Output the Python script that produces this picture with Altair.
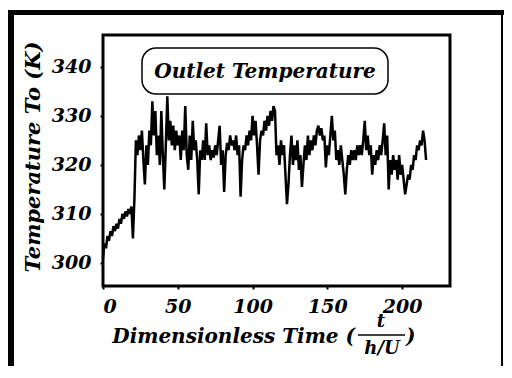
import altair as alt
import pandas as pd

# Dimensionless time (t / (h/U))
time = list(range(0, 217))

# Outlet temperature T_o (K)
temp = [
    301, 304, 303, 305.5, 304.5, 306.5, 305.5, 307.5, 306.5, 308,
    307, 309, 308, 310, 309, 310.5, 309.5, 311, 310, 311.5,
    305, 313, 325, 322, 326, 323, 327, 321, 316, 324,
    320, 327, 324, 333, 326, 331, 322, 326, 320, 331,
    322, 315, 324, 334, 325, 329, 324, 328, 323, 327,
    324, 326, 321, 327, 323, 332, 322, 319, 326, 321,
    329, 323, 325, 321, 314, 323, 321, 325, 321, 328.5,
    322, 324, 321, 323, 321.5, 324, 322, 325, 328, 320,
    323, 314.5, 322, 324.5, 323, 326, 324, 325, 323, 326,
    322, 324, 313.5, 321, 324, 323, 326, 324, 327, 325,
    330, 326, 329, 324, 318, 325, 327, 326, 329, 327,
    330, 328, 331, 329, 332, 331, 322, 324, 320, 325,
    322, 324, 318, 312, 316, 322, 326, 320, 324, 321,
    325, 319, 322, 315.5, 320, 324, 321, 326, 322, 325,
    323, 326, 324, 327, 328, 326, 327.5, 325, 326, 319.5,
    324, 322, 326, 330, 325, 327, 321, 323, 320, 324,
    321, 318, 314, 319, 322, 320, 323, 321, 323, 321,
    324, 322, 324, 322, 325, 329, 323, 326, 322, 324,
    318, 322, 320, 323, 321, 324, 322, 325, 328.5, 322,
    326, 315, 321, 318, 322, 319, 321, 317, 322, 318,
    320, 317, 314, 316, 318, 317, 320, 319, 322, 321,
    324, 323, 325, 324, 327, 325, 321,
]

x_ticks = [0, 50, 100, 150, 200]
y_ticks = [300, 310, 320, 330, 340]

FONT = "DejaVu Serif"
W, H = 347, 251

df = pd.DataFrame({"t": time, "T": temp})
one = pd.DataFrame({"a": [0]})

line = alt.Chart(df).mark_line(color="black", strokeWidth=2.5).encode(
    x=alt.X("t:Q", scale=alt.Scale(domain=[0, 232], nice=False),
            axis=alt.Axis(values=x_ticks, title=None, labelPadding=8)),
    y=alt.Y("T:Q", scale=alt.Scale(domain=[295.3, 346.5], nice=False),
            axis=alt.Axis(values=y_ticks, title=None, labelPadding=9)),
)

base = alt.Chart(one)

box = base.mark_rect(fill="white", stroke="black", strokeWidth=1.5, cornerRadius=14).encode(
    x=alt.value(39), x2=alt.value(285), y=alt.value(13), y2=alt.value(59)
)

txt = dict(font=FONT, fontStyle="italic", fontWeight="bold", color="black")

box_text = base.mark_text(fontSize=20, align="center", baseline="middle", **txt).encode(
    x=alt.value(162), y=alt.value(37), text=alt.value("Outlet Temperature")
)

ytitle = base.mark_text(fontSize=21, align="center", baseline="middle", angle=270, **txt).encode(
    x=alt.value(-69), y=alt.value(122), text=alt.value("Temperature To (K)")
)

xtitle = base.mark_text(fontSize=20, align="right", baseline="alphabetic", **txt).encode(
    x=alt.value(252), y=alt.value(308), text=alt.value("Dimensionless Time (")
)

frac_t = base.mark_text(fontSize=18, align="center", baseline="alphabetic", **txt).encode(
    x=alt.value(278), y=alt.value(292), text=alt.value("t")
)
frac_b = base.mark_text(fontSize=18, align="center", baseline="alphabetic", **txt).encode(
    x=alt.value(279), y=alt.value(319), text=alt.value("h/U")
)
frac_line = base.mark_rule(color="black", strokeWidth=1.5).encode(
    x=alt.value(255), x2=alt.value(302), y=alt.value(300)
)
close_p = base.mark_text(fontSize=20, align="left", baseline="alphabetic", **txt).encode(
    x=alt.value(303), y=alt.value(308), text=alt.value(")")
)

frame_left = base.mark_rule(color="black", strokeWidth=6).encode(
    x=alt.value(-92), y=alt.value(-25), y2=alt.value(H + 80)
)
frame_top = base.mark_rule(color="black", strokeWidth=5).encode(
    x=alt.value(-95), x2=alt.value(401), y=alt.value(-22.5)
)
frame_right = base.mark_rule(color="black", strokeWidth=2).encode(
    x=alt.value(399), y=alt.value(-25), y2=alt.value(H + 80)
)

chart = alt.layer(
    line, box, box_text, ytitle, xtitle, frac_t, frac_b, frac_line, close_p,
    frame_left, frame_top, frame_right,
).properties(
    width=W, height=H,
    autosize=alt.AutoSizeParams(type="none"),
    padding={"left": 95, "top": 27, "right": 54, "bottom": 80},
    background="white",
).configure_view(
    stroke="black", strokeWidth=3,
).configure_axis(
    grid=False, domain=False,
    labelFont=FONT, labelFontStyle="italic", labelFontWeight="bold",
    labelFontSize=19, labelColor="black",
    tickColor="black", tickWidth=2, tickSize=3,
)

chart.save("out.html", embed_options={"renderer": "svg", "actions": False})
